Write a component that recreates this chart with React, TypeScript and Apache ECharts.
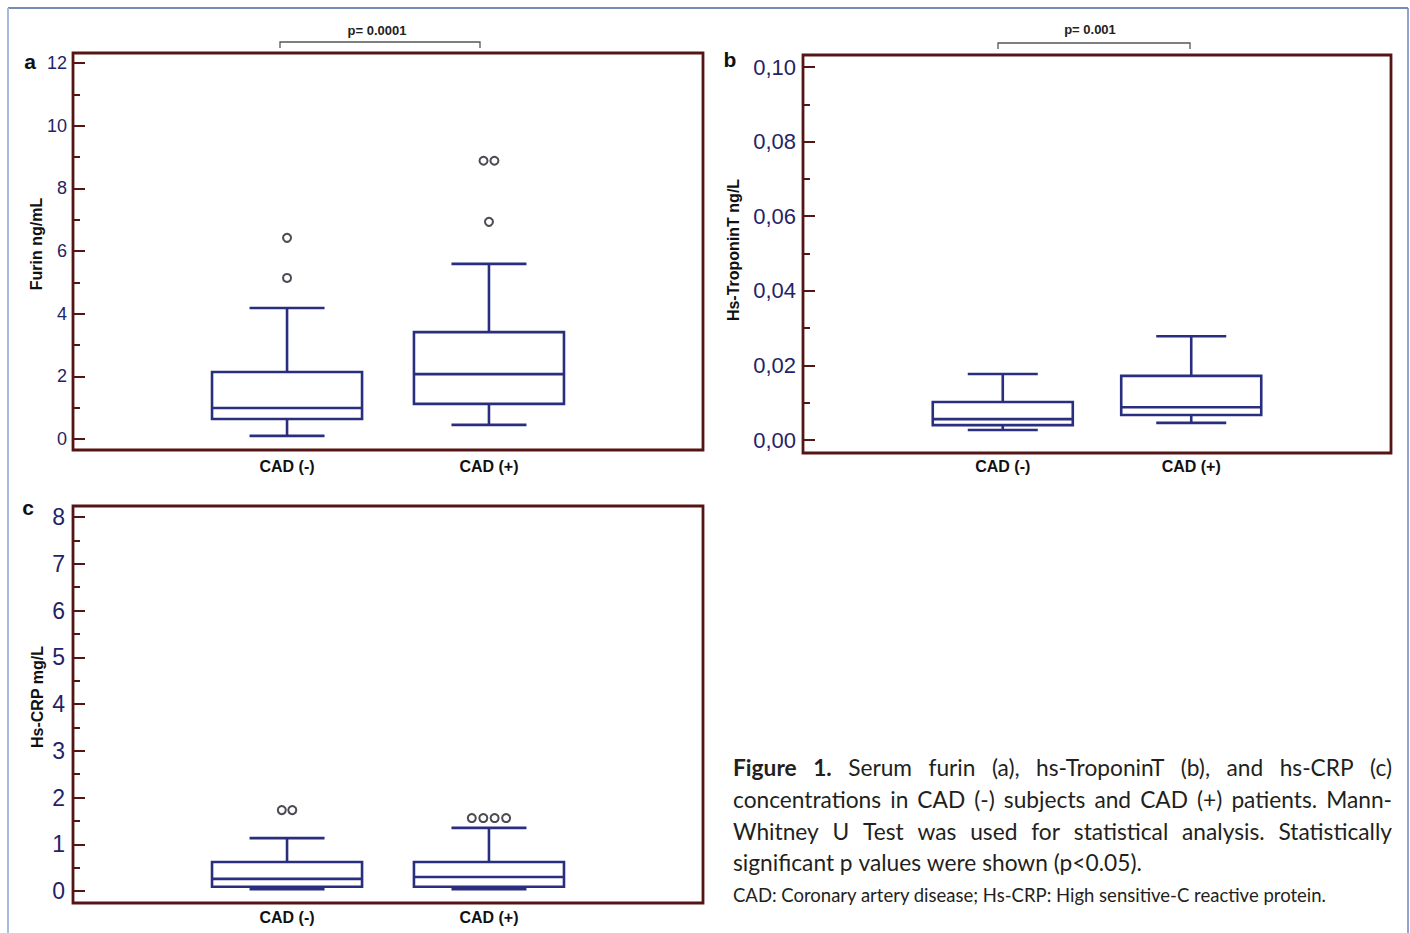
import React, { useEffect, useRef } from "react";
import * as echarts from "echarts";

// ---------------- data ----------------
const categories = ["CAD (-)", "CAD (+)"];

// [low whisker, Q1, median, Q3, high whisker]
const furinBox = [
  [0.1, 0.64, 0.99, 2.14, 4.18],
  [0.45, 1.12, 2.07, 3.41, 5.59],
];
const furinOutliers = [
  [1, 5.14],
  [1, 6.42],
  [2, 6.93],
  [1.973, 8.88],
  [2.027, 8.88],
];

const tropBox = [
  [0.0027, 0.004, 0.0056, 0.0102, 0.0177],
  [0.0046, 0.0067, 0.0088, 0.0172, 0.0278],
];

const crpBox = [
  [0.04, 0.09, 0.26, 0.62, 1.13],
  [0.04, 0.09, 0.3, 0.62, 1.35],
];
const crpOutliers = [
  [0.974, 1.73],
  [1.026, 1.73],
  [1.915, 1.56],
  [1.972, 1.56],
  [2.028, 1.56],
  [2.085, 1.56],
];

const furinTicks = { min: 0, max: 12, interval: 2 };
const tropTicks = { min: 0, max: 0.1, interval: 0.02 };
const crpTicks = { min: 0, max: 8, interval: 1 };

const pValues = ["p= 0.0001", "p= 0.001"];
const panelLetters = ["a", "b", "c"];
const axisTitles = ["Furin ng/mL", "Hs-TroponinT ng/L", "Hs-CRP mg/L"];

const captionBold = "Figure 1.";
const captionLines = [
  "Serum furin (a), hs-TroponinT (b), and hs-CRP (c)",
  "concentrations in CAD (-) subjects and CAD (+) patients. Mann-",
  "Whitney U Test was used for statistical analysis. Statistically",
  "significant p values were shown (p<0.05).",
];
const footnote =
  "CAD: Coronary artery disease; Hs-CRP: High sensitive-C reactive protein.";

// ---------------- styles ----------------
const BOX_COLOR = "#2a2e7e";
const FRAME_COLOR = "#561515";
const TICK_LABEL_COLOR = "#1f2466";
const BOX_W = 0.743;
const X_MIN = -0.06;
const X_MAX = 3.06;
const SANS = "'Liberation Sans', Arial, sans-serif";

export default function App() {
  const ref = useRef<HTMLDivElement>(null);

  useEffect(() => {
    if (!ref.current) return;
    const chart = echarts.init(ref.current, null, { renderer: "svg" });

    const panels = [
      { left: 73, top: 63, width: 630, height: 376, frame: [73, 53, 630, 397], ticks: furinTicks, font: 18, margin: 6, fmt: (v: number) => String(v), box: furinBox, out: furinOutliers },
      { left: 803, top: 67, width: 588, height: 373, frame: [803, 55, 588, 398], ticks: tropTicks, font: 22, margin: 7, fmt: (v: number) => v.toFixed(2).replace(".", ","), box: tropBox, out: [] as number[][] },
      { left: 73, top: 517, width: 630, height: 374, frame: [73, 506, 630, 397], ticks: crpTicks, font: 23, margin: 8, fmt: (v: number) => String(v), box: crpBox, out: crpOutliers },
    ];

    const grid = panels.map((p) => ({ left: p.left, top: p.top, width: p.width, height: p.height, show: false }));
    const xAxis = panels.map((p, i) => ({
      type: "value",
      gridIndex: i,
      min: X_MIN,
      max: X_MAX,
      axisLine: { show: false, onZero: false },
      axisTick: { show: false },
      splitLine: { show: false },
      axisLabel: {
        customValues: [1, 2],
        formatter: (v: number) => categories[Math.round(v) - 1] ?? "",
        margin: i === 0 ? 19 : 18,
        fontFamily: SANS,
        fontWeight: "bold",
        fontSize: 16,
        color: "#111",
      },
    }));
    const yAxis = panels.map((p, i) => ({
      type: "value",
      gridIndex: i,
      min: p.ticks.min,
      max: p.ticks.max,
      interval: p.ticks.interval,
      splitLine: { show: false },
      axisLine: { show: true, onZero: false, lineStyle: { color: FRAME_COLOR, width: 2 } },
      axisTick: { show: true, inside: true, length: 12, lineStyle: { color: FRAME_COLOR, width: 2 } },
      minorTick: { show: true, splitNumber: 2, length: 7, lineStyle: { color: FRAME_COLOR, width: 2 } },
      axisLabel: { margin: p.margin, fontFamily: SANS, fontSize: p.font, color: TICK_LABEL_COLOR, formatter: p.fmt },
    }));

    const renderItem = (params: any, api: any) => {
      const x = api.value(0);
      const lo = api.coord([x, api.value(1)]);
      const q1 = api.coord([x, api.value(2)]);
      const md = api.coord([x, api.value(3)]);
      const q3 = api.coord([x, api.value(4)]);
      const hi = api.coord([x, api.value(5)]);
      const bw = api.size([BOX_W, 0])[0];
      const cw = bw / 2;
      const cx = md[0];
      const style = { stroke: BOX_COLOR, lineWidth: 2.6, fill: "none" };
      return {
        type: "group",
        children: [
          { type: "line", shape: { x1: cx, y1: q1[1], x2: cx, y2: lo[1] }, style },
          { type: "line", shape: { x1: cx - cw / 2, y1: lo[1], x2: cx + cw / 2, y2: lo[1] }, style },
          { type: "line", shape: { x1: cx, y1: q3[1], x2: cx, y2: hi[1] }, style },
          { type: "line", shape: { x1: cx - cw / 2, y1: hi[1], x2: cx + cw / 2, y2: hi[1] }, style },
          { type: "rect", shape: { x: cx - bw / 2, y: q3[1], width: bw, height: q1[1] - q3[1] }, style: { ...style, fill: "#fff" } },
          { type: "line", shape: { x1: cx - bw / 2, y1: md[1], x2: cx + bw / 2, y2: md[1] }, style },
        ],
      };
    };

    const series: any[] = [];
    panels.forEach((p, i) => {
      series.push({
        type: "custom",
        xAxisIndex: i,
        yAxisIndex: i,
        renderItem,
        encode: { x: 0, y: [1, 2, 3, 4, 5] },
        data: p.box.map((b, k) => [k + 1, ...b]),
      });
      if (p.out.length) {
        series.push({
          type: "scatter",
          xAxisIndex: i,
          yAxisIndex: i,
          symbol: "circle",
          symbolSize: 8,
          itemStyle: { color: "#fff", borderColor: "#1e1e28", borderWidth: 2 },
          data: p.out,
        });
      }
    });

    // caption layout (justified)
    const ctx = document.createElement("canvas").getContext("2d")!;
    const CAP_FAMILY = "Lato";
    const measure = (t: string, font: string) => {
      ctx.font = font;
      return ctx.measureText(t).width;
    };
    const capSize = (22 * 409) / measure(captionLines[3], `22px ${CAP_FAMILY}`);
    const footSize = (17 * 594) / measure(footnote, `17px ${CAP_FAMILY}`);
    const CAP_L = 733;
    const CAP_R = 1392;
    const lineY = [767, 799, 831, 862];
    const capGraphics: any[] = [];
    captionLines.forEach((line, li) => {
      const words: { t: string; b: boolean }[] = [];
      if (li === 0) captionBold.split(" ").forEach((w) => words.push({ t: w, b: true }));
      line.split(" ").forEach((w) => words.push({ t: w, b: false }));
      const fontOf = (b: boolean) => `${b ? "bold " : ""}${capSize}px ${CAP_FAMILY}`;
      const widths = words.map((w) => measure(w.t, fontOf(w.b)));
      const total = widths.reduce((a, b) => a + b, 0);
      const justify = li < 3;
      const gap = justify ? (CAP_R - CAP_L - total) / (words.length - 1) : measure(" ", fontOf(false));
      let x = CAP_L;
      words.forEach((w, k) => {
        capGraphics.push({
          type: "text",
          x,
          y: lineY[li],
          style: { text: w.t, fontFamily: CAP_FAMILY, fontSize: capSize, fontWeight: w.b ? "bold" : "normal", fill: "#231f20", align: "left", verticalAlign: "middle" },
        });
        x += widths[k] + gap;
      });
    });
    capGraphics.push({
      type: "text",
      x: CAP_L,
      y: 895,
      style: { text: footnote, fontFamily: CAP_FAMILY, fontSize: footSize, fill: "#231f20", align: "left", verticalAlign: "middle" },
    });

    const frames = panels.map((p) => ({
      type: "rect",
      shape: { x: p.frame[0], y: p.frame[1], width: p.frame[2], height: p.frame[3] },
      style: { fill: "none", stroke: FRAME_COLOR, lineWidth: 2.8 },
      z: 100,
    }));

    const titleText = (t: string, x: number, y: number) => ({
      type: "text",
      x,
      y,
      rotation: Math.PI / 2,
      style: { text: t, fontFamily: SANS, fontWeight: "bold", fontSize: 16, fill: "#111", align: "center", verticalAlign: "middle" },
    });
    const letter = (t: string, x: number, y: number) => ({
      type: "text",
      x,
      y,
      style: { text: t, fontFamily: SANS, fontWeight: "bold", fontSize: 21, fill: "#111", align: "center", verticalAlign: "middle" },
    });
    const bracket = (x1: number, x2: number, y: number, label: string, lx: number, ly: number) => [
      { type: "polyline", shape: { points: [[x1, y + 6], [x1, y], [x2, y], [x2, y + 6]] }, style: { stroke: "#555", lineWidth: 1.3, fill: "none" } },
      { type: "text", x: lx, y: ly, style: { text: label, fontFamily: SANS, fontWeight: "bold", fontSize: 13, fill: "#222", align: "center", verticalAlign: "middle" } },
    ];

    const graphic: any[] = [
      // outer figure border
      { type: "line", shape: { x1: 8, y1: 8, x2: 1408, y2: 8 }, style: { stroke: "#4a64a2", lineWidth: 1.5 } },
      { type: "line", shape: { x1: 8, y1: 8, x2: 8, y2: 933 }, style: { stroke: "#a8bce2", lineWidth: 2 } },
      { type: "line", shape: { x1: 1408, y1: 8, x2: 1408, y2: 933 }, style: { stroke: "#6c84bc", lineWidth: 1.5 } },
      ...frames,
      titleText(axisTitles[0], 36, 244),
      titleText(axisTitles[1], 733, 250),
      titleText(axisTitles[2], 37, 697),
      letter(panelLetters[0], 30, 61),
      letter(panelLetters[1], 730, 59),
      letter(panelLetters[2], 28, 507),
      ...bracket(280, 480, 42, pValues[0], 377, 30),
      ...bracket(998, 1190, 43, pValues[1], 1090, 29),
      ...capGraphics,
    ];

    chart.setOption({
      animation: false,
      backgroundColor: "#fff",
      grid,
      xAxis,
      yAxis,
      series,
      graphic,
    });

    return () => chart.dispose();
  }, []);

  return <div ref={ref} style={{ position: "fixed", left: 0, top: 0, width: 1410, height: 933 }} />;
}
